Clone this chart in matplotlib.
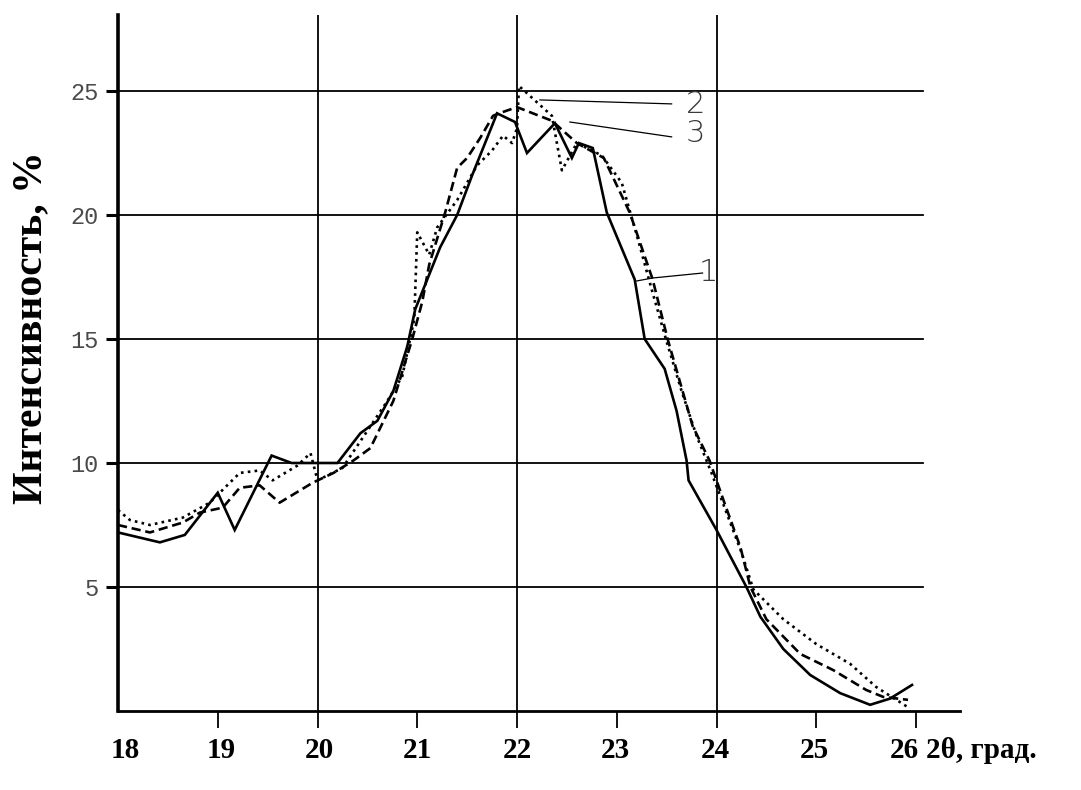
import matplotlib
matplotlib.use("Agg")
import matplotlib.pyplot as plt
import matplotlib.transforms as mtransforms

# ---- data ----
x_ticks = [18, 19, 20, 21, 22, 23, 24, 25, 26]
x_ticklabels = ["18", "19", "20", "21", "22", "23", "24", "25", "26"]
y_ticks = [5, 10, 15, 20, 25]
y_ticklabels = ["5", "10", "15", "20", "25"]

# curve 1 (solid)
x1 = [18.0, 18.42, 18.67, 19.0, 19.17, 19.54, 19.74, 20.2, 20.43, 20.6, 20.76, 20.9,
      20.98, 21.1, 21.23, 21.4, 21.55, 21.7, 21.8, 21.98, 22.1, 22.38, 22.55, 22.62,
      22.76, 22.9, 23.18, 23.28, 23.48, 23.6, 23.7, 23.72, 24.0, 24.3, 24.44, 24.67,
      24.94, 25.24, 25.54, 25.74, 25.96]
y1 = [7.2, 6.8, 7.1, 8.8, 7.3, 10.3, 10.0, 10.0, 11.2, 11.7, 12.9, 14.7,
      16.2, 17.4, 18.7, 20.0, 21.6, 23.1, 24.1, 23.75, 22.5, 23.7, 22.3, 22.9,
      22.7, 20.1, 17.4, 15.0, 13.8, 12.1, 10.1, 9.3, 7.3, 5.0, 3.8, 2.5,
      1.45, 0.72, 0.25, 0.5, 1.05]

# curve 2 (dotted)
x2 = [18.0, 18.12, 18.32, 18.65, 18.92, 19.22, 19.42, 19.55, 19.8, 19.93, 20.0, 20.25,
      20.5, 20.7, 20.85, 20.97, 21.0, 21.12, 21.2, 21.4, 21.5, 21.6, 21.75, 21.86,
      21.95, 22.0, 22.02, 22.35, 22.45, 22.6, 22.85, 23.05, 23.2, 23.35, 23.5, 23.65,
      23.8, 23.95, 24.1, 24.25, 24.37, 24.67, 25.0, 25.34, 25.6, 25.92]
y2 = [8.1, 7.7, 7.5, 7.8, 8.4, 9.6, 9.7, 9.3, 9.9, 10.4, 9.3, 9.8,
      11.3, 12.5, 13.5, 15.8, 19.3, 18.4, 19.5, 20.6, 21.3, 22.0, 22.6, 23.2,
      22.9, 23.5, 25.2, 24.0, 21.8, 22.9, 22.4, 21.3, 19.2, 17.0, 14.9, 12.9,
      11.1, 9.6, 8.0, 6.4, 4.9, 3.7, 2.7, 1.9, 0.97, 0.15]

# curve 3 (dashed)
x3 = [18.0, 18.32, 18.65, 18.82, 19.05, 19.22, 19.42, 19.62, 19.95, 20.16, 20.36, 20.53,
      20.76, 20.95, 21.05, 21.12, 21.28, 21.4, 21.5, 21.63, 21.76, 21.82, 22.0, 22.35,
      22.6, 22.87, 23.13, 23.36, 23.51, 23.66, 23.76, 23.93, 24.07, 24.24, 24.34, 24.5,
      24.84, 25.17, 25.5, 25.67, 25.92]
y3 = [7.5, 7.2, 7.6, 8.0, 8.2, 9.0, 9.1, 8.4, 9.2, 9.6, 10.1, 10.6,
      12.5, 15.0, 16.5, 18.0, 20.1, 21.9, 22.3, 23.1, 24.0, 24.1, 24.35, 23.8,
      22.9, 22.3, 20.1, 17.4, 15.0, 12.9, 11.5, 10.1, 8.5, 6.6, 5.0, 3.7,
      2.3, 1.65, 0.85, 0.57, 0.45]

curve_labels = ["1", "2", "3"]

# ---- figure ----
W, H = 1081, 790
fig = plt.figure(figsize=(W / 100, H / 100), dpi=100)
ax_left, ax_right, ax_bottom, ax_top = 118, 960, 711, 15
ax = fig.add_axes([ax_left / W, (H - ax_bottom) / H,
                   (ax_right - ax_left) / W, (ax_bottom - ax_top) / H])
px_per_x = 99.75
px_per_y = 24.8
ax.set_xlim(18, 18 + (ax_right - ax_left) / px_per_x)
ax.set_ylim(0, (ax_bottom - ax_top) / px_per_y)

# grid
grid_right = 26.07
for yv in y_ticks:
    ax.plot([18, grid_right], [yv, yv], color="black", lw=1.3, zorder=1)
for xv in [20, 22, 24]:
    ax.axvline(xv, color="black", lw=1.3, zorder=1)

# curves
ax.plot(x1, y1, color="black", lw=1.9, solid_joinstyle="miter", zorder=3)
ax.plot(x2, y2, color="black", lw=1.9, linestyle=(0, (1, 1.6)), zorder=3)
ax.plot(x3, y3, color="black", lw=1.9, linestyle=(0, (3.5, 1.8)), zorder=3)

# leaders and curve numbers
lab_col = "#3a3a3a"
ax.plot([22.23, 23.55], [24.64, 24.48], color="black", lw=0.9, zorder=2)
ax.plot([22.53, 23.55], [23.75, 23.15], color="black", lw=0.9, zorder=2)
ax.plot([23.2, 23.36, 23.86], [17.34, 17.46, 17.66], color="black", lw=0.9, zorder=2)
ax.text(23.79, 24.44, curve_labels[1], fontsize=22, color=lab_col, ha="center",
        va="center", family="DejaVu Sans", fontweight="light")
ax.text(23.79, 23.3, curve_labels[2], fontsize=22, color=lab_col, ha="center",
        va="center", family="DejaVu Sans", fontweight="light")
ax.text(23.92, 17.7, curve_labels[0], fontsize=22, color=lab_col, ha="center",
        va="center", family="DejaVu Sans", fontweight="light")

# spines
for s in ["top", "right"]:
    ax.spines[s].set_visible(False)
ax.spines["left"].set_linewidth(2.6)
ax.spines["bottom"].set_linewidth(2.0)

# y ticks
ax.set_yticks(y_ticks)
ax.set_yticklabels(y_ticklabels, family="Liberation Mono", fontsize=17, color="#4a4a4a")
ax.tick_params(axis="y", direction="out", length=9, width=2.2, pad=5)

# x ticks: marks at 19..26, labels placed as text along the axis
ax.set_xticks(x_ticks[1:])
ax.set_xticklabels([])
ax.tick_params(axis="x", direction="out", length=12, width=1.3)

trans = mtransforms.blended_transform_factory(ax.transData, ax.transAxes)
label_y = (ax_bottom - 750) / (ax_bottom - ax_top)
label_dx = [7, 3, 2, 0, 0, -1, -1, -2, -12]  # pixel nudges as in the scan
for v, lab, dx in zip(x_ticks, x_ticklabels, label_dx):
    t = mtransforms.offset_copy(trans, fig=fig, x=dx, y=0, units="dots")
    ax.text(v, label_y, lab, transform=t, family="Liberation Serif",
            fontweight="bold", fontsize=21, ha="center", va="center")

# axis titles
ax.text(26.1, label_y, "2θ, град.", transform=trans,
        family="Liberation Serif", fontweight="bold", fontsize=21, ha="left", va="center")
ax.text((31 - ax_left) / (ax_right - ax_left), (ax_bottom - 328) / (ax_bottom - ax_top),
        "Интенсивность, %", transform=ax.transAxes, rotation=90,
        family="Liberation Serif", fontweight="bold", fontsize=30, ha="center", va="center")

fig.savefig("out.png", dpi=100)
